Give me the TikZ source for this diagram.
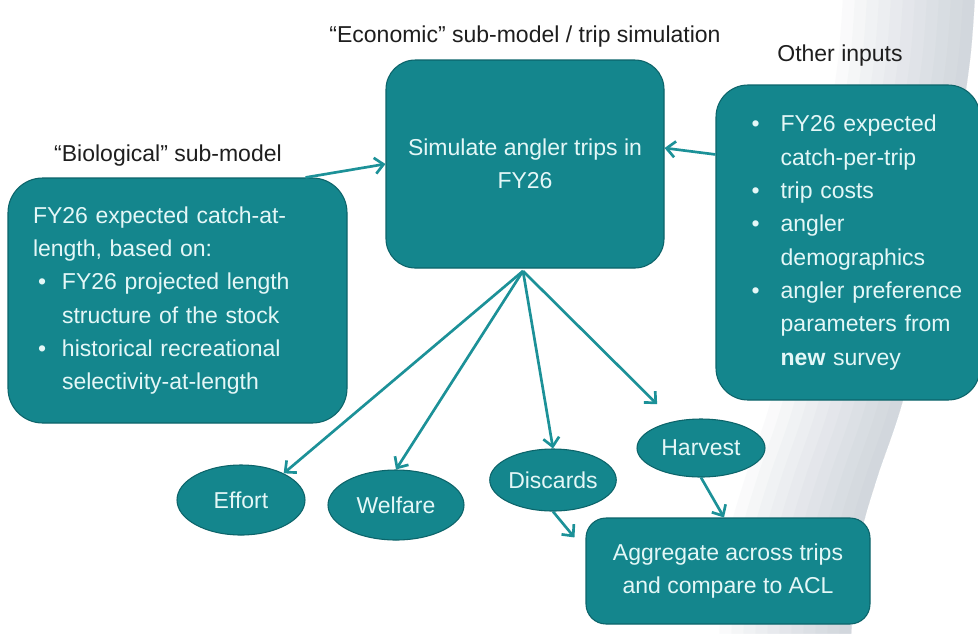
\documentclass[tikz,border=0pt]{standalone}
\usepackage{fontspec}
\setmainfont{Liberation Sans}
\usetikzlibrary{arrows.meta,shapes.geometric}
\definecolor{teal1}{RGB}{20,134,141}
\definecolor{tealb}{RGB}{12,100,106}
\definecolor{tealarr}{RGB}{28,145,152}
\definecolor{txtl}{RGB}{228,247,247}
\definecolor{ttl}{RGB}{30,30,30}
\definecolor{bandc}{RGB}{150,162,178}
\newcommand\bl{\hspace*{3.75pt}\makebox[18pt][l]{\textbullet}}
\newcommand\ind{\hspace*{21.75pt}}
\newcommand\bm[1]{\mbox{\hspace*{11.25pt}\makebox[21.75pt][l]{\textbullet}#1}}
\newcommand\im[1]{\mbox{\hspace*{33pt}#1}}
\begin{document}
\begin{tikzpicture}[x=0.75pt,y=-0.75pt,
  every node/.style={font=\fontsize{17.25}{25}\selectfont},
  box/.style={draw=tealb, line width=0.8pt, fill=teal1, text=txtl, rounded corners=#1, inner sep=0pt},
  ell/.style={ellipse, draw=tealb, line width=0.8pt, fill=teal1, text=txtl, inner sep=0pt},
  ttlnode/.style={text=ttl, inner sep=0pt},
  arr/.style={draw=tealarr, line width=2pt, -{Straight Barb[length=6.5pt,width=12pt]}}
]
\clip (0,0) rectangle (978,633);
\fill[white] (0,0) rectangle (978,633);
% page-curl shading
\foreach \d in {12,24,...,132} {
  \fill[bandc, opacity=0.045] plot[smooth] coordinates {(975,-5) (970,60) (955,160) (933,270) (903,400) (878,475) (862,530) (854,590) (851,640)}
   -- plot[smooth] coordinates {({851-\d},640) ({854-\d},590) ({862-\d},530) ({878-\d},475) ({903-\d},400) ({933-\d},270) ({955-\d},160) ({970-\d},60) ({975-\d},-5)} -- cycle;
}
% titles
\node[ttlnode] (ecot) at (525,37) {“Economic” sub-model / trip simulation};
\node[ttlnode] (othert) at (840,56) {Other inputs};
\node[ttlnode] (biot) at (168,156) {“Biological” sub-model};
% boxes
\node[box=22pt, minimum width=208.5pt, minimum height=156pt, align=center] (sim) at (525,164) {Simulate angler trips in\\FY26};
\node[box=26pt, minimum width=254.25pt, minimum height=183.75pt, text width=216.75pt, inner xsep=18.75pt, align=left] (bio) at (177.5,300.5)
 {\mbox{FY26 expected catch-at-}\\length, based on:\\\bl FY26 projected length\\\ind structure of the stock\\\bl historical recreational\\\ind selectivity-at-length};
\node[box=24pt, minimum width=198pt, minimum height=236.25pt, text width=167pt, inner xsep=15.5pt, align=left] (oth) at (848,242.5)
 {\bm{FY26 expected}\\\im{catch-per-trip}\\\bm{trip costs}\\\bm{angler}\\\im{demographics}\\\bm{angler preference}\\\im{parameters from}\\\im{\textbf{new} survey}};
\node[box=15pt, minimum width=213pt, minimum height=79.5pt, align=center] (agg) at (728,571) {Aggregate across trips\\and compare to ACL};
% ellipses
\node[ell, minimum width=96pt, minimum height=52.5pt] (effort) at (241,500) {Effort};
\node[ell, minimum width=102pt, minimum height=52.5pt] (welfare) at (396,505) {Welfare};
\node[ell, minimum width=93pt, minimum height=46.5pt] (discards) at (553,480) {Discards};
\node[ell, minimum width=96pt, minimum height=43.5pt] (harvest) at (701,448) {Harvest};
% connectors
\coordinate (fan) at (523,271);
\draw[arr] ([xshift=-31.5pt]bio.north east) -- (sim.west);
\draw[arr] ([yshift=-52.5pt]oth.north west) -- ([yshift=12pt]sim.east);
\draw[arr] (fan) -- (effort.32);
\draw[arr] (fan) -- (welfare.north);
\draw[arr] (fan) -- (discards.north);
\draw[arr, shorten >=18pt] (fan) -- (harvest.135);
\draw[arr] (discards.south) -- ([xshift=-8.25pt,yshift=-15pt]agg.north west);
\draw[arr] (harvest.south) -- ([xshift=-3pt]agg.north);
\end{tikzpicture}
\end{document}
